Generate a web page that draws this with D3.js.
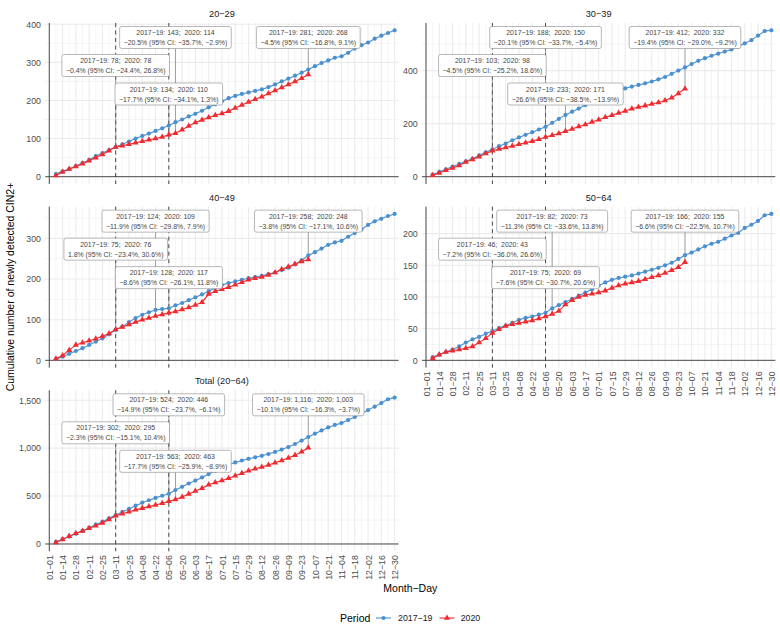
<!DOCTYPE html>
<html><head><meta charset="utf-8">
<script src="https://cdn.jsdelivr.net/npm/d3@7"></script>
<style>
body{margin:0;background:#fff}
svg{font-family:"Liberation Sans",Arial,Helvetica,sans-serif}
</style>
</head><body>
<svg id="chart" width="780" height="638"></svg>
<script>
// ---------------- DATA ----------------
const categories = ["01-01","01-07","01-14","01-21","01-28","02-04","02-11","02-18","02-25","03-04",
  "03-11","03-18","03-25","04-01","04-08","04-15","04-22","04-29","05-06","05-13",
  "05-20","05-27","06-03","06-10","06-17","06-24","07-01","07-08","07-15","07-22",
  "07-29","08-05","08-12","08-19","08-26","09-02","09-09","09-16","09-23","09-30",
  "10-07","10-14","10-21","10-28","11-04","11-11","11-18","11-25","12-02","12-09",
  "12-16","12-23","12-30"];
// weekly cumulative counts start at the second category (01-07)
const panelNames = ["20−29","30−39","40−49","50−64","Total (20−64)"];

const cum1719_20_29 = [7,14,20,28,36,44,54,62,70,78,85,92,100,107,113,120,127,134,143,150,158,165,173,182,190,198,206,212,217,221,225,229,235,242,250,257,265,273,281,290,298,305,312,316,325,336,345,352,362,370,377,384];
const cum2020_20_29 = [3,12,20,27,34,42,50,58,68,78,81,85,89,93,97,100,104,110,114,123,133,142,149,155,161,166,172,180,188,196,203,210,218,226,234,242,250,258,268];

const cum1719_30_39 = [8,18,28,38,48,58,68,80,92,103,115,125,137,148,158,168,178,188,203,218,233,245,257,270,283,296,308,318,326,333,340,346,352,359,367,376,388,400,412,425,437,447,456,464,472,480,490,503,515,532,549,552];
const cum2020_30_39 = [5,14,24,33,42,55,65,75,87,98,104,110,116,122,128,134,141,150,156,163,171,180,189,197,206,215,224,232,240,248,256,263,268,274,280,287,298,314,332];

const cum1719_40_49 = [3,9,16,23,30,38,46,54,64,75,83,94,104,112,118,124,126,128,135,141,148,155,162,170,178,185,190,194,198,202,205,208,212,216,222,228,236,246,258,266,275,284,290,294,304,313,322,333,342,348,355,360];
const cum2020_40_49 = [4,12,25,38,43,48,53,59,66,76,82,88,94,100,104,109,113,117,120,125,130,136,143,163,170,175,180,186,192,198,202,205,210,216,224,230,237,243,248];

const cum1719_50_64 = [5,9,13,17,22,28,33,37,42,46,51,55,59,64,67,69,72,75,82,87,92,97,102,107,112,118,123,127,130,132,134,137,140,143,146,150,154,160,166,170,175,180,184,187,192,197,201,209,214,220,229,231];
const cum2020_50_64 = [3,9,13,15,17,19,22,28,35,43,49,54,57,59,61,63,66,69,73,78,88,95,100,103,105,107,110,114,118,121,123,125,128,131,134,138,142,147,155];

const cum1719_total = [23,50,77,106,136,168,201,233,268,302,334,366,400,431,456,481,503,524,563,596,631,662,694,729,763,797,827,851,871,888,904,920,939,960,985,1011,1043,1079,1116,1151,1185,1216,1242,1261,1293,1326,1358,1397,1433,1470,1510,1527];
const cum2020_total = [15,47,82,113,136,164,190,220,256,295,316,337,356,374,390,406,424,446,463,489,522,553,581,618,642,663,686,712,738,763,784,803,824,847,872,897,927,962,1003];

const series1719 = [cum1719_20_29, cum1719_30_39, cum1719_40_49, cum1719_50_64, cum1719_total];
const series2020 = [cum2020_20_29, cum2020_30_39, cum2020_40_49, cum2020_50_64, cum2020_total];

const yTicks = [[0,100,200,300,400],[0,200,400],[0,100,200,300],[0,50,100,150,200],[0,500,1000,1500]];
const yMinor = [[50,150,250,350],[100,300,500],[50,150,250,350],[25,75,125,175,225],[250,750,1250]];

const periodLines = ["03-11","05-06"];

const annotWeeks = [["03-11","05-06","05-13","09-30"],["03-11","05-06","05-27","09-30"],["03-11","04-22","05-06","09-30"],["03-11","05-06","05-13","09-30"],["03-11","05-06","05-13","09-30"]];
const annotBase  = [[78,134,143,281],[103,188,233,412],[75,124,128,258],[46,75,82,166],[302,524,563,1116]];
const annotCur   = [[78,110,114,268],[98,150,171,332],[76,109,117,248],[43,69,73,155],[295,446,463,1003]];
const annotPct   = [[-0.4,-17.7,-20.5,-4.5],[-4.5,-20.1,-26.6,-19.4],[1.8,-11.9,-8.6,-3.8],[-7.2,-7.6,-11.3,-6.6],[-2.3,-14.9,-17.7,-10.1]];
const annotLo    = [[-24.4,-34.1,-35.7,-16.8],[-25.2,-33.7,-38.5,-29.0],[-23.4,-29.8,-26.1,-17.1],[-36.0,-30.7,-33.6,-22.5],[-15.1,-23.7,-25.9,-16.3]];
const annotHi    = [[26.8,1.3,-2.9,9.1],[18.6,-5.4,-13.9,-9.2],[30.6,7.9,11.8,10.6],[26.6,20.6,13.8,10.7],[10.4,-6.1,-8.9,-3.7]];
// layout only: which label tier (0 = top, 1 = middle, 2 = lower)
const annotTier  = [[1,2,0,0],[1,0,2,0],[1,0,2,0],[1,2,0,0],[1,0,2,0]];

const legendLabels = ["2017−19","2020"];

// ---------------- LAYOUT ----------------
const colX = [45.3, 422];
const rowY = [23, 206.65, 390.3];
const PW = 353.3, PH = 161;
const tierOffset = [14.5, 42.5, 71];
const panelPos = [[0,0],[1,0],[0,1],[1,1],[0,2]];
const BLUE = "#4a90d0", RED = "#ef2b2f";
const GRID = "#ebebeb";

const svg = d3.select("#chart");
const fmtInt = d3.format(",");
const fmtPct = v => d3.format(".1f")(v).replace("-", "−") + "%";
const lab = s => s.replace(/-/g, "−");
const evenCats = categories.filter((d,i) => i % 2 === 0);
const oddCats = categories.filter((d,i) => i % 2 === 1);

panelNames.forEach((name, p) => {
  const [c, r] = panelPos[p];
  const x0 = colX[c], top = rowY[r], bottom = top + PH;
  const blue = series1719[p], red = series2020[p];
  const M = d3.max(blue.concat(red));
  const x = d3.scalePoint().domain(categories).range([x0, x0 + PW]).padding(0.6);
  const y = d3.scaleLinear().domain([-0.05 * M, 1.05 * M]).range([bottom, top]);
  const g = svg.append("g");

  // grid
  g.selectAll(null).data(yMinor[p]).join("line")
    .attr("x1", x0).attr("x2", x0 + PW).attr("y1", d => y(d)).attr("y2", d => y(d))
    .attr("stroke", GRID).attr("stroke-width", 0.55);
  g.selectAll(null).data(oddCats).join("line")
    .attr("x1", d => x(d)).attr("x2", d => x(d)).attr("y1", top).attr("y2", bottom)
    .attr("stroke", GRID).attr("stroke-width", 0.55);
  g.selectAll(null).data(yTicks[p]).join("line")
    .attr("x1", x0).attr("x2", x0 + PW).attr("y1", d => y(d)).attr("y2", d => y(d))
    .attr("stroke", GRID).attr("stroke-width", 1.1);
  g.selectAll(null).data(evenCats).join("line")
    .attr("x1", d => x(d)).attr("x2", d => x(d)).attr("y1", top).attr("y2", bottom)
    .attr("stroke", GRID).attr("stroke-width", 1.1);

  // zero lines
  g.append("line").attr("x1", x0).attr("x2", x0 + PW).attr("y1", y(0)).attr("y2", y(0))
    .attr("stroke", "#4d4d4d").attr("stroke-width", 1);
  g.append("line").attr("x1", x(categories[0])).attr("x2", x(categories[0])).attr("y1", top).attr("y2", bottom)
    .attr("stroke", "#4d4d4d").attr("stroke-width", 1);

  // y axis
  const ya = g.append("g").attr("transform", `translate(${x0},0)`)
    .call(d3.axisLeft(y).tickValues(yTicks[p]).tickFormat(fmtInt).tickSize(0).tickPadding(4.3));
  ya.select(".domain").remove();
  ya.selectAll("text").attr("fill", "#4d4d4d").style("font-size", "8.8px")
    .style("font-family", '"Liberation Sans",Arial,sans-serif');

  // x axis (bottom panel of each column)
  if (p === 3 || p === 4) {
    const xa = g.append("g").attr("transform", `translate(0,${bottom})`)
      .call(d3.axisBottom(x).tickValues(evenCats).tickFormat(lab).tickSize(0));
    xa.select(".domain").remove();
    xa.selectAll("text").attr("fill", "#4d4d4d").style("font-size", "8.8px")
      .style("font-family", '"Liberation Sans",Arial,sans-serif')
      .attr("transform", "rotate(-90)").attr("text-anchor", "end")
      .attr("x", -3.8).attr("y", 0).attr("dy", "0.35em");
  }

  // strip title
  g.append("text").attr("x", x0 + PW / 2).attr("y", top - 6).attr("text-anchor", "middle")
    .attr("fill", "#1a1a1a").style("font-size", "9.2px").text(name);

  // dashed period lines
  g.selectAll(null).data(periodLines).join("line")
    .attr("x1", d => x(d)).attr("x2", d => x(d)).attr("y1", top).attr("y2", bottom)
    .attr("stroke", "#333").attr("stroke-width", 0.9).attr("stroke-dasharray", "4,3.5");

  // annotation connectors
  const ann = annotWeeks[p].map((w, k) => ({
    w, base: annotBase[p][k], cur: annotCur[p][k], pct: annotPct[p][k],
    lo: annotLo[p][k], hi: annotHi[p][k], tier: annotTier[p][k]
  }));
  g.selectAll(null).data(ann).join("line")
    .attr("x1", d => x(d.w)).attr("x2", d => x(d.w))
    .attr("y1", d => top + tierOffset[d.tier] + 11).attr("y2", d => y(d.cur))
    .attr("stroke", "#666").attr("stroke-width", 0.6);

  // series
  const line = d3.line().x(d => x(d.c)).y(d => y(d.v));
  const bData = blue.map((v, i) => ({c: categories[i + 1], v}));
  const rData = red.map((v, i) => ({c: categories[i + 1], v}));
  g.append("path").attr("d", line(bData)).attr("fill", "none").attr("stroke", BLUE).attr("stroke-width", 1.1);
  g.selectAll(null).data(bData).join("circle")
    .attr("cx", d => x(d.c)).attr("cy", d => y(d.v)).attr("r", 2.1).attr("fill", BLUE);
  g.append("path").attr("d", line(rData)).attr("fill", "none").attr("stroke", RED).attr("stroke-width", 1.1);
  const tri = d3.symbol().type(d3.symbolTriangle).size(16);
  g.selectAll(null).data(rData).join("path")
    .attr("transform", d => `translate(${x(d.c)},${y(d.v)})`).attr("d", tri).attr("fill", RED);

  // labels
  ann.forEach(d => {
    const cx = x(d.w), cy = top + tierOffset[d.tier];
    const lg = g.append("g");
    const rect = lg.append("rect");
    const t1 = lg.append("text").attr("x", cx).attr("y", cy - 2.4).attr("text-anchor", "middle")
      .attr("xml:space", "preserve").style("white-space", "pre")
      .attr("fill", "#444").style("font-size", "6.9px")
      .text(`2017−19: ${fmtInt(d.base)};  2020: ${fmtInt(d.cur)}`);
    const t2 = lg.append("text").attr("x", cx).attr("y", cy + 7.6).attr("text-anchor", "middle")
      .attr("fill", "#444").style("font-size", "6.9px")
      .text(`${fmtPct(d.pct)} (95% CI: ${fmtPct(d.lo)}, ${fmtPct(d.hi)})`);
    const w = Math.max(t1.node().getComputedTextLength(), t2.node().getComputedTextLength()) + 8;
    rect.attr("x", cx - w / 2).attr("y", cy - 11).attr("width", w).attr("height", 22)
      .attr("rx", 2).attr("fill", "#fff").attr("stroke", "#888").attr("stroke-width", 0.6);
  });
});

// axis titles
svg.append("text").attr("x", 410.3).attr("y", 592).attr("text-anchor", "middle")
  .attr("fill", "#000").style("font-size", "10.5px").text("Month−Day");
svg.append("text").attr("transform", "translate(13.8,287) rotate(-90)").attr("text-anchor", "middle")
  .attr("fill", "#000").style("font-size", "10.5px").text("Cumulative number of newly detected CIN2+");

// legend
const leg = svg.append("g");
leg.append("text").attr("x", 340).attr("y", 621.8).attr("fill", "#000").style("font-size", "10.5px").text("Period");
const keyX = [376, 439.5];
const txtX = [398, 460.7];
const cols = [BLUE, RED];
legendLabels.forEach((l, i) => {
  leg.append("line").attr("x1", keyX[i]).attr("x2", keyX[i] + 15).attr("y1", 618).attr("y2", 618)
    .attr("stroke", cols[i]).attr("stroke-width", 1.1);
  if (i === 0) leg.append("circle").attr("cx", keyX[i] + 7.5).attr("cy", 618).attr("r", 2.1).attr("fill", cols[i]);
  else leg.append("path").attr("transform", `translate(${keyX[i] + 7.5},618)`)
    .attr("d", d3.symbol().type(d3.symbolTriangle).size(16)).attr("fill", cols[i]);
  leg.append("text").attr("x", txtX[i]).attr("y", 621.2).attr("fill", "#1a1a1a").style("font-size", "8.8px").text(l);
});
</script>
</body></html>
